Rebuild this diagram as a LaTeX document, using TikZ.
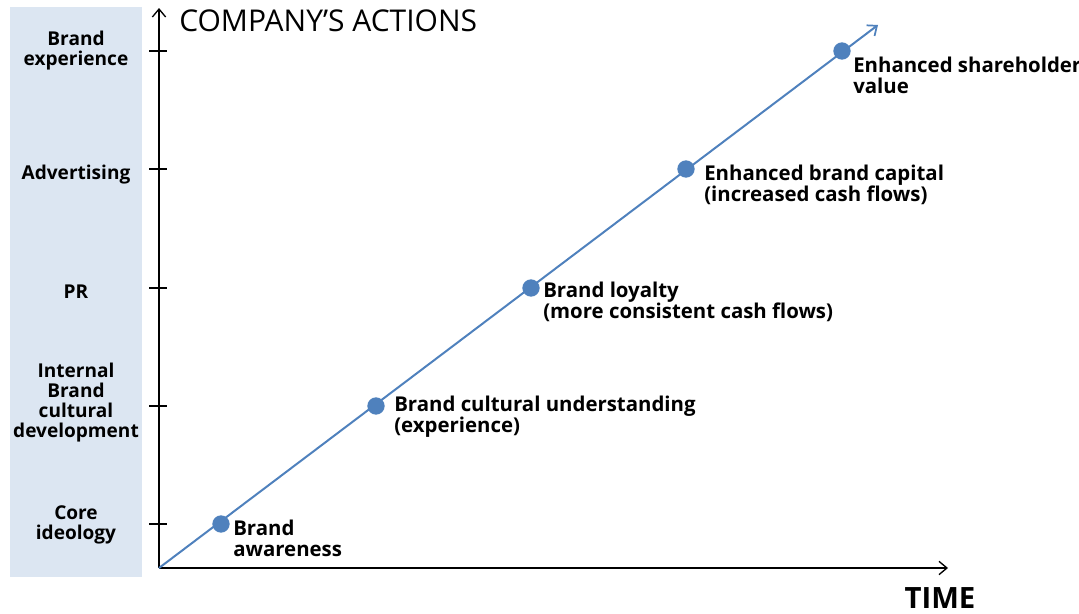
\documentclass[tikz,border=0pt]{standalone}
\usepackage{fontspec}
\setmainfont{Open Sans}
\usetikzlibrary{arrows.meta}
\definecolor{panelblue}{HTML}{DCE6F2}
\definecolor{lineblue}{HTML}{4F81BD}
\tikzset{
  axis/.style={draw=black, line width=1.3pt, -{Straight Barb[length=6pt,width=10pt,line width=1pt]}},
  tick/.style={draw=black, line width=1pt},
  trend/.style={draw=lineblue, line width=1.5pt, -{Straight Barb[length=6pt,width=10pt,line width=1.3pt]}},
  dot/.style={circle, fill=lineblue, minimum size=13pt, inner sep=0pt},
  lbl/.style={font=\bfseries\fontsize{15.3}{15.5}\selectfont, align=left, anchor=north west, inner sep=0pt},
  side/.style={font=\bfseries\fontsize{14.3}{15}\selectfont, align=center, inner sep=0pt},
}
\begin{document}
\begin{tikzpicture}[x=0.75pt,y=-0.75pt]
\useasboundingbox (0,0) rectangle (1079,614);
\fill[panelblue] (10,7) rectangle (142,577);
% axes
\coordinate (O) at (159,568);
\coordinate (ytop) at (159,8);
\coordinate (xend) at (948,568);
\coordinate (tend) at (878,25);
\draw[axis] (O) -- (ytop);
\draw[axis] (O) -- (xend);
% ticks
\foreach \y/\n in {51/t1,169/t2,288/t3,406/t4,524/t5}{
  \coordinate (\n a) at (149,\y);
  \coordinate (\n b) at (167,\y);
  \draw[tick] (\n a) -- (\n b);
}
% trend line
\draw[trend] (O) -- (tend);
\node[dot] (d1) at (221,524) {};
\node[dot] (d2) at (376,406) {};
\node[dot] (d3) at (531,288) {};
\node[dot] (d4) at (686,169) {};
\node[dot] (d5) at (842,51) {};
% point labels
\node[lbl] (l1) at (233,520) {Brand\\awareness};
\node[lbl] (l2) at (394,396) {Brand cultural understanding\\(experience)};
\node[lbl] (l3) at (543,282) {Brand loyalty\\(more consistent cash flows)};
\node[lbl] (l4) at (704,165) {Enhanced brand capital\\(increased cash flows)};
\node[lbl] (l5) at (853,57) {Enhanced shareholder\\value};
% side labels
\node[side] (s1) at (76,51) {Brand\\experience};
\node[side] (s2) at (76,175) {Advertising};
\node[side] (s3) at (76,292) {PR};
\node[side] (s4) at (76,403) {Internal\\Brand\\cultural\\development};
\node[side] (s5) at (76,525) {Core\\ideology};
% titles
\node[font=\fontsize{22.5}{24}\selectfont, anchor=west, inner sep=0pt] (title) at (179,21) {COMPANY’S ACTIONS};
\node[font=\bfseries\fontsize{22}{24}\selectfont, inner sep=0pt] (time) at (940,598) {TIME};
\end{tikzpicture}
\end{document}
